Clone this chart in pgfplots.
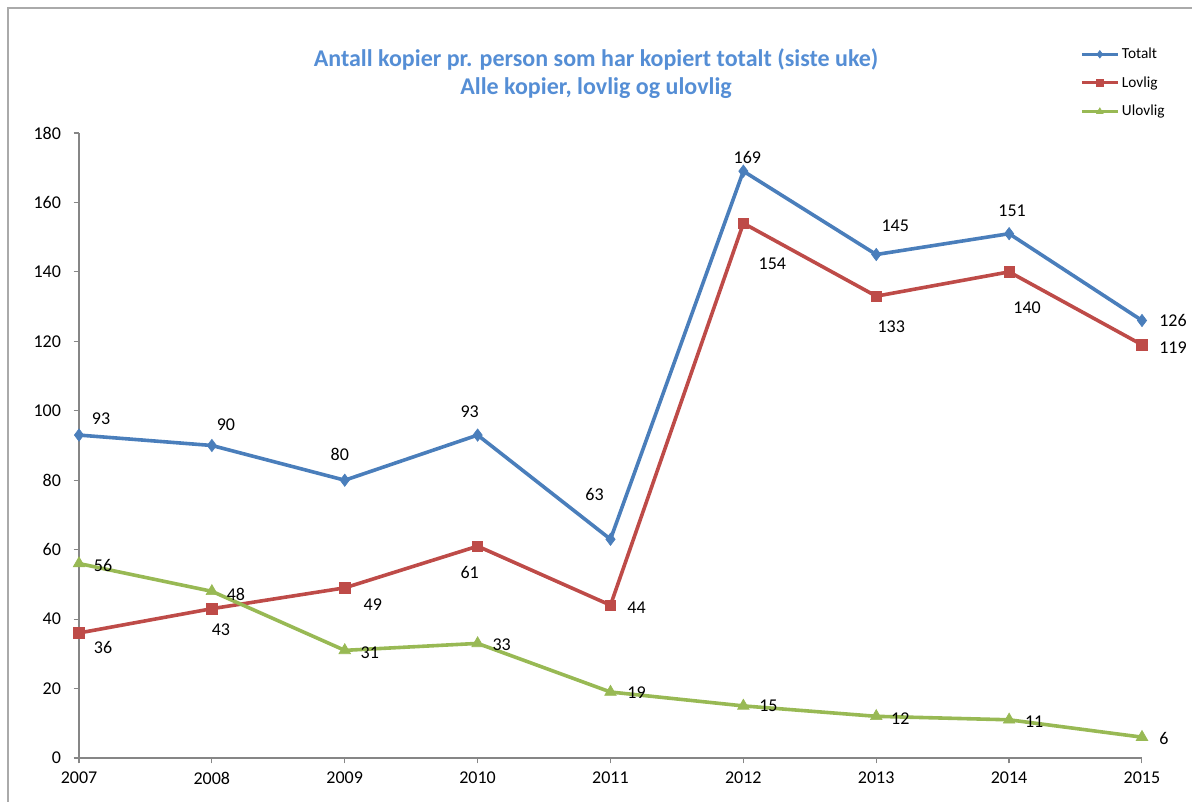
\documentclass[border=0pt]{standalone}
\usepackage{pgfplots}
\pgfplotsset{compat=1.18}
\usepackage{pgfplotstable}
\usepackage{fontspec}
\setmainfont{Carlito}

\definecolor{totblue}{HTML}{4A7EBB}
\definecolor{lovred}{HTML}{BE4B48}
\definecolor{ulovgreen}{HTML}{98B954}
\definecolor{titleblue}{HTML}{558ED5}
\definecolor{axgrey}{HTML}{868686}

% dx, dy: label offset from the point, in pixels of the reference
\pgfplotstableread{
x y dx dy
2007 93 22 16
2008 90 14 21
2009 80 -5 26
2010 93 -8 23
2011 63 -16 45
2012 169 4 14
2013 145 19 29
2014 151 3 23
2015 126 31 0
}\totalt

\pgfplotstableread{
x y dx dy
2007 36 24 -14
2008 43 9 -21
2009 49 28 -17
2010 61 -8 -26
2011 44 26 -3
2012 154 29 -41
2013 133 15 -31
2014 140 18 -36
2015 119 31 -3
}\lovlig

\pgfplotstableread{
x y dx dy
2007 56 24 -2
2008 48 24 -3
2009 31 25 -2
2010 33 24 -1
2011 19 26 -1
2012 15 25 0
2013 12 24 -2
2014 11 25 -2
2015 6 22 -1
}\ulovlig

\begin{document}
\begin{tikzpicture}
\useasboundingbox (-59.25pt,-33pt) rectangle (834.75pt,568.5pt);
\draw[axgrey!70, line width=0.9pt] (-53.25pt,-33pt) -- (-53.25pt,562.5pt) -- (834.75pt,562.5pt);
\begin{axis}[
  at={(0,0)}, anchor=south west,
  scale only axis,
  width=797.25pt, height=468.75pt,
  xmin=2007, xmax=2015,
  ymin=0, ymax=180,
  xtick={2007,...,2015},
  ytick={0,20,...,180},
  axis lines=left,
  axis line style={-, axgrey, line width=0.9pt},
  tick style={axgrey, line width=0.9pt},
  tick align=outside,
  major tick length=4pt,
  x tick label style={/pgf/number format/1000 sep={}, yshift=-3pt},
  y tick label style={xshift=-6pt},
  /pgf/number format/assume math mode=true,
  tick label style={font=\fontsize{13.5}{16}\selectfont},
  clip=false,
  nodes near coords,
  nodes near coords style={font=\fontsize{13.5}{16}\selectfont, text=black, anchor=center,
    xshift=0.75*\dx pt, yshift=0.75*\dy pt},
  visualization depends on={\thisrow{dx} \as \dx},
  visualization depends on={\thisrow{dy} \as \dy},
  legend style={at={(rel axis cs:0.938,1.145)}, anchor=north west, draw=none, fill=none,
    font=\fontsize{11.5}{13}\selectfont, row sep=8pt,
    cells={anchor=west}},
  legend image code/.code={%
    \draw[line width=2.2pt, mark repeat=2, mark phase=2, mark size=2.8pt] plot coordinates {(0pt,0pt) (13.5pt,0pt) (27pt,0pt)};},
]
\addplot[totblue, line width=2.7pt, mark=diamond*, mark size=4.6pt, mark options={solid, line width=0.5pt}] table[x=x, y=y] {\totalt};
\addlegendentry{Totalt}
\addplot[lovred, line width=2.7pt, mark=square*, mark size=3.9pt, mark options={solid, line width=0.5pt}] table[x=x, y=y] {\lovlig};
\addlegendentry{Lovlig}
\addplot[ulovgreen, line width=2.7pt, mark=triangle*, mark size=5pt, mark options={solid, line width=0.5pt}] table[x=x, y=y] {\ulovlig};
\addlegendentry{Ulovlig}

\node[align=center, font=\bfseries\fontsize{18}{21}\selectfont, text=titleblue]
  at (rel axis cs:0.4864,1.0944) {Antall kopier pr. person som har kopiert totalt (siste uke)\\Alle kopier, lovlig og ulovlig};
\end{axis}
\end{tikzpicture}
\end{document}
